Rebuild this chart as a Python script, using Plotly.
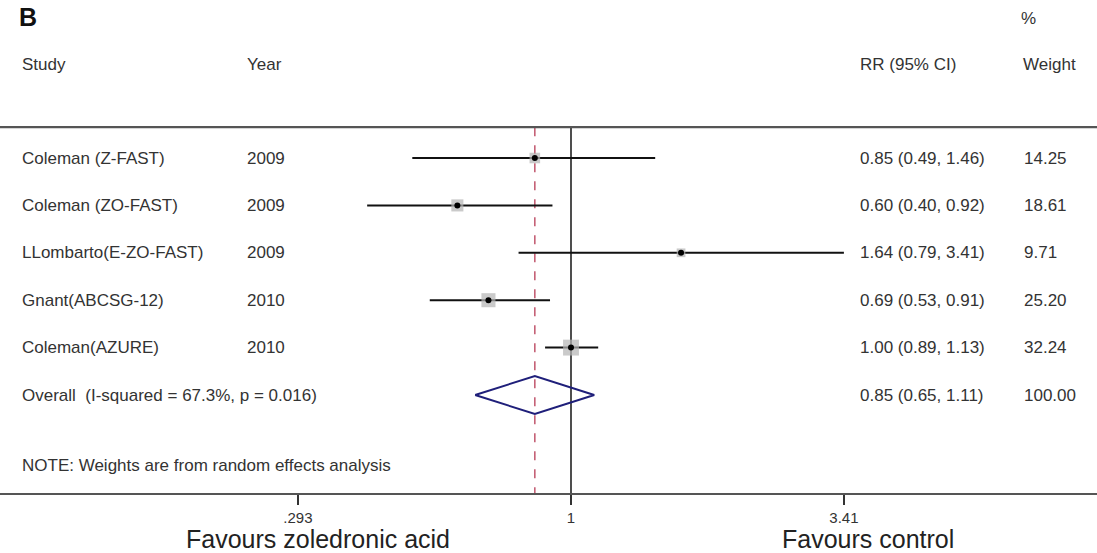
import plotly.graph_objects as go
import numpy as np

studies = ["Coleman (Z-FAST)", "Coleman (ZO-FAST)", "LLombarto(E-ZO-FAST)",
           "Gnant(ABCSG-12)", "Coleman(AZURE)"]
years = ["2009", "2009", "2009", "2010", "2010"]
rr = [0.85, 0.60, 1.64, 0.69, 1.00]
ci_lo = [0.49, 0.40, 0.79, 0.53, 0.89]
ci_hi = [1.46, 0.92, 3.41, 0.91, 1.13]
weights = [14.25, 18.61, 9.71, 25.20, 32.24]

overall_label = "Overall  (I-squared = 67.3%, p = 0.016)"
overall_rr = 0.85
overall_lo = 0.65
overall_hi = 1.11
overall_weight = 100.00

tick_vals = [0.293, 1, 3.41]
tick_text = [".293", "1", "3.41"]

FONT = "Liberation Sans, Arial, sans-serif"
TXT = "#333333"
W, H = 1097, 553
FS = 17

rows = list(range(1, len(studies) + 1))
overall_row = len(studies) + 1
note_row = overall_row + 1.49
rule_row = 0.35
header_row = -0.98

fig = go.Figure()

# CI lines
for r, lo, hi in zip(rows, ci_lo, ci_hi):
    fig.add_trace(go.Scatter(x=[lo, hi], y=[r, r], mode="lines",
                             line=dict(color="#111111", width=2),
                             hoverinfo="skip", showlegend=False))

# weight boxes
fig.add_trace(go.Scatter(x=rr, y=rows, mode="markers",
                         marker=dict(symbol="square", color="#b3b3b3",
                                     size=[2.8 * np.sqrt(w) for w in weights],
                                     line=dict(width=0)),
                         hoverinfo="skip", showlegend=False))
# point estimates
fig.add_trace(go.Scatter(x=rr, y=rows, mode="markers",
                         marker=dict(symbol="circle", color="#000000", size=6),
                         hoverinfo="skip", showlegend=False))

# overall diamond
dh = 0.4
fig.add_trace(go.Scatter(
    x=[overall_lo, overall_rr, overall_hi, overall_rr, overall_lo],
    y=[overall_row, overall_row - dh, overall_row, overall_row + dh, overall_row],
    mode="lines", line=dict(color="#1f1f7a", width=2),
    hoverinfo="skip", showlegend=False))

y_bottom = 1 + (493 - 158) / 47.4
y_top = 1 - 158 / 47.4

# reference lines
fig.add_shape(type="line", xref="x", yref="y", x0=1, x1=1, y0=rule_row, y1=y_bottom,
              line=dict(color="#222222", width=1.6), layer="below")
fig.add_shape(type="line", xref="x", yref="y", x0=overall_rr, x1=overall_rr,
              y0=rule_row, y1=y_bottom,
              line=dict(color="#bd4a63", width=1.4, dash="dash"), layer="below")
# top rule
fig.add_shape(type="line", xref="paper", yref="y", x0=0, x1=1, y0=rule_row, y1=rule_row,
              line=dict(color="#555555", width=2.2))

ann = []
def t(x, y, text, size=FS, anchor="left", yref="y", bold=False, color=TXT):
    ann.append(dict(x=x / W, y=y, xref="paper", yref=yref,
                    text=("<b>%s</b>" % text) if bold else text,
                    showarrow=False, xanchor=anchor, yanchor="middle",
                    font=dict(family=FONT, size=size, color=color)))

# headers
t(17, y_top + 17 / 47.4, "B", size=25, bold=True, color="#111111")
t(1019, y_top + 18 / 47.4, "%", size=FS)
t(20, header_row, "Study")
t(245, header_row, "Year")
t(858, header_row, "RR (95% CI)")
t(1021, header_row, "Weight")

for r, s, yv, e, lo, hi, w in zip(rows, studies, years, rr, ci_lo, ci_hi, weights):
    t(20, r, s)
    t(245, r, yv)
    t(858, r, "%.2f (%.2f, %.2f)" % (e, lo, hi))
    t(1022, r, "%.2f" % w)

t(20, overall_row, overall_label)
t(858, overall_row, "%.2f (%.2f, %.2f)" % (overall_rr, overall_lo, overall_hi))
t(1022, overall_row, "%.2f" % overall_weight)
t(20, note_row, "NOTE: Weights are from random effects analysis", size=17)

# favours labels
fig_ann_y = (493 - 539) / 493
ann.append(dict(x=318 / W, y=fig_ann_y, xref="paper", yref="paper",
                text="Favours zoledronic acid", showarrow=False, xanchor="center",
                yanchor="middle", font=dict(family=FONT, size=25, color="#222222")))
ann.append(dict(x=868 / W, y=fig_ann_y, xref="paper", yref="paper",
                text="Favours control", showarrow=False, xanchor="center",
                yanchor="middle", font=dict(family=FONT, size=25, color="#222222")))

px_per_ln = 546 / (np.log(3.41) - np.log(0.293))
lnlo = -571 / px_per_ln
lnhi = (W - 571) / px_per_ln

fig.update_layout(
    width=W, height=H,
    margin=dict(l=0, r=0, t=0, b=H - 493),
    paper_bgcolor="white", plot_bgcolor="white",
    annotations=ann,
    xaxis=dict(type="log", range=[lnlo / np.log(10), lnhi / np.log(10)],
               tickvals=tick_vals, ticktext=tick_text, ticks="outside",
               ticklen=10, tickwidth=1.5, tickcolor="#333333",
               showgrid=False, zeroline=False, showline=True,
               linecolor="#555555", linewidth=2.2,
               tickfont=dict(family=FONT, size=15, color=TXT)),
    yaxis=dict(range=[y_bottom, y_top], showgrid=False, zeroline=False,
               showticklabels=False, showline=False),
)

fig.write_html("out.html")
